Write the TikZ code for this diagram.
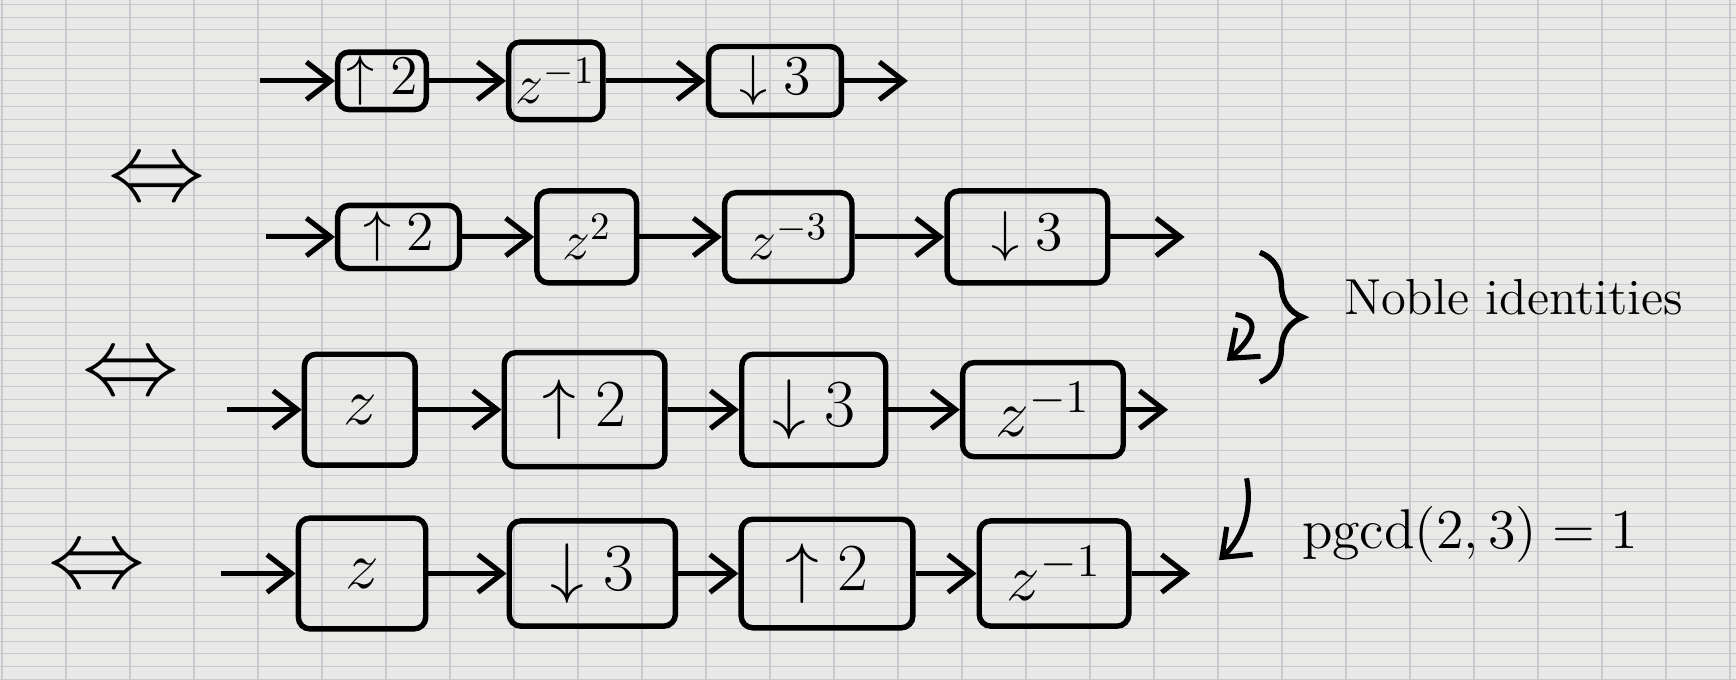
\documentclass[tikz,border=0pt]{standalone}
\usetikzlibrary{arrows.meta,decorations.pathreplacing}
\definecolor{paper}{RGB}{233,233,231}
\definecolor{gridc}{RGB}{200,202,208}
\begin{document}
\begin{tikzpicture}[x=0.01cm,y=-0.01cm,
  blk/.style={draw,line width=1.4pt,rounded corners=3pt,inner sep=1pt},
  small/.style={font=\fontsize{14}{16}\selectfont},
  big/.style={font=\fontsize{18}{20}\selectfont},
  arr/.style={line width=1.3pt,-{Straight Barb[length=2.2mm,width=3.4mm]}},
  eqv/.style={font=\fontsize{26}{28}\selectfont},
  gridline/.style={draw=gridc,line width=0.4pt}]
\fill[paper] (0,0) rectangle (1568,614);
\useasboundingbox (0,0) rectangle (1568,614);
\foreach \i in {0,...,27} \draw[gridline] (2+57.8*\i,0) -- (2+57.8*\i,614);
\foreach \j in {0,...,53} \draw[gridline,line width=0.25pt] (0,4+11.5*\j) -- (1568,4+11.5*\j);

% Row 1
\node[blk,small,minimum width=0.80cm,minimum height=0.45cm] (a1) at (345,73) {$\uparrow 2$};
\node[blk,small,minimum width=0.85cm,minimum height=0.70cm] (b1) at (502,73) {$z^{-1}$};
\node[blk,small,minimum width=1.20cm,minimum height=0.62cm] (c1) at (700,73) {$\downarrow 3$};
\coordinate (i1) at (235,73);
\coordinate (o1) at (820,73);
\draw[arr] (i1) -- (a1.west);
\draw[arr] (a1.east) -- (b1.west);
\draw[arr] (b1.east) -- (c1.west);
\draw[arr] (c1.east) -- (o1);

\node[eqv] (e1) at (142,165) {$\Leftrightarrow$};

% Row 2
\node[blk,small,minimum width=1.10cm,minimum height=0.57cm] (a2) at (360,214) {$\uparrow 2$};
\node[blk,small,minimum width=0.90cm,minimum height=0.83cm] (b2) at (530,214) {$z^{2}$};
\node[blk,small,minimum width=1.15cm,minimum height=0.80cm] (c2) at (712,214) {$z^{-3}$};
\node[blk,small,minimum width=1.45cm,minimum height=0.83cm] (d2) at (928,214) {$\downarrow 3$};
\coordinate (i2) at (240,214);
\coordinate (o2) at (1070,214);
\draw[arr] (i2) -- (a2.west);
\draw[arr] (a2.east) -- (b2.west);
\draw[arr] (b2.east) -- (c2.west);
\draw[arr] (c2.east) -- (d2.west);
\draw[arr] (d2.east) -- (o2);

\node[eqv] (e2) at (118,340) {$\Leftrightarrow$};

% Row 3
\node[blk,big,minimum width=1.00cm,minimum height=1.00cm] (a3) at (325,370) {$z$};
\node[blk,big,minimum width=1.45cm,minimum height=1.03cm] (b3) at (528,370) {$\uparrow 2$};
\node[blk,big,minimum width=1.30cm,minimum height=1.00cm] (c3) at (735,370) {$\downarrow 3$};
\node[blk,big,minimum width=1.45cm,minimum height=0.85cm] (d3) at (942,370) {$z^{-1}$};
\coordinate (i3) at (205,370);
\coordinate (o3) at (1055,370);
\draw[arr] (i3) -- (a3.west);
\draw[arr] (a3.east) -- (b3.west);
\draw[arr] (b3.east) -- (c3.west);
\draw[arr] (c3.east) -- (d3.west);
\draw[arr] (d3.east) -- (o3);

\node[eqv] (e3) at (88,515) {$\Leftrightarrow$};

% Row 4
\node[blk,big,minimum width=1.15cm,minimum height=1.00cm] (a4) at (327,518) {$z$};
\node[blk,big,minimum width=1.50cm,minimum height=0.95cm] (b4) at (535,518) {$\downarrow 3$};
\node[blk,big,minimum width=1.55cm,minimum height=0.98cm] (c4) at (747,518) {$\uparrow 2$};
\node[blk,big,minimum width=1.35cm,minimum height=0.95cm] (d4) at (952,518) {$z^{-1}$};
\coordinate (i4) at (200,518);
\coordinate (o4) at (1075,518);
\draw[arr] (i4) -- (a4.west);
\draw[arr] (a4.east) -- (b4.west);
\draw[arr] (b4.east) -- (c4.west);
\draw[arr] (c4.east) -- (d4.west);
\draw[arr] (d4.east) -- (o4);

% Annotations
\coordinate (bt) at (1138,228);
\coordinate (bb) at (1138,345);
\draw[line width=1.4pt,decorate,decoration={brace,amplitude=11pt}] (bt) -- (bb);
\coordinate (s1a) at (1116,284);
\coordinate (s1b) at (1108,326);
\draw[arr] (s1a) .. controls (1140,288) and (1132,305) .. (s1b);
\node[font=\fontsize{13}{15}\selectfont] (noble) at (1367,268) {Noble identities};

\coordinate (s2a) at (1126,432);
\coordinate (s2b) at (1101,506);
\draw[arr] (s2a) .. controls (1132,465) and (1120,488) .. (s2b);
\node[font=\fontsize{15}{17}\selectfont] (pgcd) at (1328,483) {$\mathrm{pgcd}(2,3)=1$};
\end{tikzpicture}
\end{document}
